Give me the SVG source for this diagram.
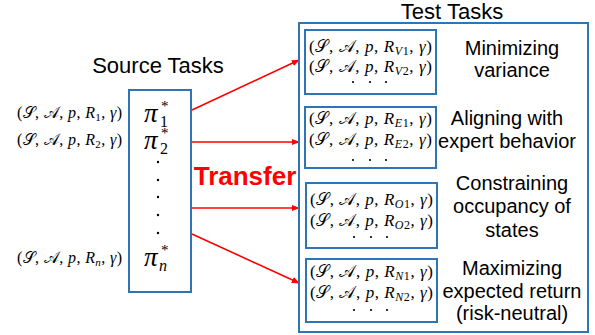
<svg xmlns="http://www.w3.org/2000/svg" width="595" height="335" viewBox="0 0 595 335">
<defs>
<style>
.box{fill:none;stroke:#2e75b6;stroke-width:2}
.ttl{font-family:"Liberation Sans",Arial,sans-serif;font-size:22px;fill:#000;text-anchor:middle}
.lbl{font-family:"Liberation Sans",Arial,sans-serif;font-size:20px;fill:#000;text-anchor:middle}
.m{font-family:"Liberation Serif","DejaVu Serif",serif;font-size:16px;fill:#000}
.mi{font-family:"Liberation Serif","DejaVu Serif",serif;font-size:17px;fill:#000}
.pi{font-family:"Liberation Serif","DejaVu Serif",serif;font-size:27px;fill:#000;font-style:italic}
.sup{font-family:"Liberation Serif","DejaVu Serif",serif;font-size:15px;fill:#000}
.sub{font-family:"Liberation Serif","DejaVu Serif",serif;font-size:16px;fill:#000}
.dot{fill:#000}
.arr{stroke:#ff0000;stroke-width:1.6;fill:none;marker-end:url(#ah)}
</style>
<marker id="ah" viewBox="0 0 10 10" refX="9" refY="5" markerWidth="5" markerHeight="5" orient="auto" markerUnits="strokeWidth">
<path d="M0,1 L10,5 L0,9 z" fill="#ff0000"/>
</marker>
</defs>
<rect width="595" height="335" fill="#fff"/>

<g id="source">
<text class="ttl" x="158" y="73" font-size="23">Source Tasks</text>
<rect class="box" x="129" y="90" width="62" height="202"/>
<text class="pi" x="144" y="122">π</text><text class="sup" x="161" y="111">*</text><text class="sub" x="160" y="127">1</text>
<text class="pi" x="144" y="149">π</text><text class="sup" x="161" y="138">*</text><text class="sub" x="160" y="154">2</text>
<text class="pi" x="144" y="266">π</text><text class="sup" x="161" y="255">*</text><text class="sub" x="159" y="271" font-style="italic">n</text>
<circle class="dot" cx="158" cy="162" r="1.2"/>
<circle class="dot" cx="158" cy="180" r="1.2"/>
<circle class="dot" cx="158" cy="197" r="1.2"/>
<circle class="dot" cx="158" cy="215" r="1.2"/>
<circle class="dot" cx="158" cy="233" r="1.2"/>
<text class="m" x="17" y="118" textLength="105" lengthAdjust="spacing">(𝒮, 𝒜, <tspan font-style="italic">p</tspan>, <tspan font-style="italic">R</tspan><tspan font-size="11" dy="3">1</tspan><tspan dy="-3">, </tspan><tspan font-style="italic">γ</tspan>)</text>
<text class="m" x="17" y="145" textLength="105" lengthAdjust="spacing">(𝒮, 𝒜, <tspan font-style="italic">p</tspan>, <tspan font-style="italic">R</tspan><tspan font-size="11" dy="3">2</tspan><tspan dy="-3">, </tspan><tspan font-style="italic">γ</tspan>)</text>
<text class="m" x="17" y="263" textLength="105" lengthAdjust="spacing">(𝒮, 𝒜, <tspan font-style="italic">p</tspan>, <tspan font-style="italic">R</tspan><tspan font-size="11" dy="3" font-style="italic">n</tspan><tspan dy="-3">, </tspan><tspan font-style="italic">γ</tspan>)</text>
</g>

<g id="connectors">
<line class="arr" x1="192" y1="110" x2="299" y2="60"/>
<line class="arr" x1="192" y1="142" x2="299" y2="142"/>
<line class="arr" x1="192" y1="208" x2="299" y2="208"/>
<line class="arr" x1="192" y1="234" x2="299" y2="283"/>
<text x="245" y="185" font-family="Liberation Sans,Arial,sans-serif" font-size="26" font-weight="bold" fill="#ff0000" text-anchor="middle">Transfer</text>
</g>

<g id="test">
<text class="ttl" x="452" y="19" font-size="21">Test Tasks</text>
<rect class="box" x="299" y="23" width="289" height="309"/>
</g>

<g id="variance">
<rect class="box" x="305" y="30" width="131" height="64"/>
<text class="mi" x="309" y="52" textLength="123" lengthAdjust="spacing">(𝒮, 𝒜, <tspan font-style="italic">p</tspan>, <tspan font-style="italic">R</tspan><tspan font-size="12" dy="3" font-style="italic">V</tspan><tspan font-size="12">1</tspan><tspan dy="-3">, </tspan><tspan font-style="italic">γ</tspan>)</text>
<text class="mi" x="309" y="72" textLength="123" lengthAdjust="spacing">(𝒮, 𝒜, <tspan font-style="italic">p</tspan>, <tspan font-style="italic">R</tspan><tspan font-size="12" dy="3" font-style="italic">V</tspan><tspan font-size="12">2</tspan><tspan dy="-3">, </tspan><tspan font-style="italic">γ</tspan>)</text>
<circle class="dot" cx="353" cy="82" r="1.1"/><circle class="dot" cx="370" cy="82" r="1.1"/><circle class="dot" cx="386" cy="82" r="1.1"/>
<text class="lbl" x="512" y="55">Minimizing</text>
<text class="lbl" x="512" y="77">variance</text>
</g>

<g id="expert">
<rect class="box" x="305" y="107" width="131" height="61"/>
<text class="mi" x="309" y="124" textLength="123" lengthAdjust="spacing">(𝒮, 𝒜, <tspan font-style="italic">p</tspan>, <tspan font-style="italic">R</tspan><tspan font-size="12" dy="3" font-style="italic">E</tspan><tspan font-size="12">1</tspan><tspan dy="-3">, </tspan><tspan font-style="italic">γ</tspan>)</text>
<text class="mi" x="309" y="145" textLength="123" lengthAdjust="spacing">(𝒮, 𝒜, <tspan font-style="italic">p</tspan>, <tspan font-style="italic">R</tspan><tspan font-size="12" dy="3" font-style="italic">E</tspan><tspan font-size="12">2</tspan><tspan dy="-3">, </tspan><tspan font-style="italic">γ</tspan>)</text>
<circle class="dot" cx="353" cy="160" r="1.1"/><circle class="dot" cx="370" cy="160" r="1.1"/><circle class="dot" cx="386" cy="160" r="1.1"/>
<text class="lbl" x="507" y="125">Aligning with</text>
<text class="lbl" x="507" y="148">expert behavior</text>
</g>

<g id="occupancy">
<rect class="box" x="306" y="183" width="131" height="65"/>
<text class="mi" x="310" y="205" textLength="123" lengthAdjust="spacing">(𝒮, 𝒜, <tspan font-style="italic">p</tspan>, <tspan font-style="italic">R</tspan><tspan font-size="12" dy="3" font-style="italic">O</tspan><tspan font-size="12">1</tspan><tspan dy="-3">, </tspan><tspan font-style="italic">γ</tspan>)</text>
<text class="mi" x="310" y="226" textLength="123" lengthAdjust="spacing">(𝒮, 𝒜, <tspan font-style="italic">p</tspan>, <tspan font-style="italic">R</tspan><tspan font-size="12" dy="3" font-style="italic">O</tspan><tspan font-size="12">2</tspan><tspan dy="-3">, </tspan><tspan font-style="italic">γ</tspan>)</text>
<circle class="dot" cx="354" cy="237" r="1.1"/><circle class="dot" cx="371" cy="237" r="1.1"/><circle class="dot" cx="387" cy="237" r="1.1"/>
<text class="lbl" x="512" y="190">Constraining</text>
<text class="lbl" x="512" y="213">occupancy of</text>
<text class="lbl" x="512" y="237">states</text>
</g>

<g id="return">
<rect class="box" x="306" y="259" width="131" height="63"/>
<text class="mi" x="310" y="277" textLength="123" lengthAdjust="spacing">(𝒮, 𝒜, <tspan font-style="italic">p</tspan>, <tspan font-style="italic">R</tspan><tspan font-size="12" dy="3" font-style="italic">N</tspan><tspan font-size="12">1</tspan><tspan dy="-3">, </tspan><tspan font-style="italic">γ</tspan>)</text>
<text class="mi" x="310" y="298" textLength="123" lengthAdjust="spacing">(𝒮, 𝒜, <tspan font-style="italic">p</tspan>, <tspan font-style="italic">R</tspan><tspan font-size="12" dy="3" font-style="italic">N</tspan><tspan font-size="12">2</tspan><tspan dy="-3">, </tspan><tspan font-style="italic">γ</tspan>)</text>
<circle class="dot" cx="354" cy="310" r="1.1"/><circle class="dot" cx="371" cy="310" r="1.1"/><circle class="dot" cx="387" cy="310" r="1.1"/>
<text class="lbl" x="512" y="275">Maximizing</text>
<text class="lbl" x="512" y="298">expected return</text>
<text class="lbl" x="512" y="320">(risk-neutral)</text>
</g>
</svg>
